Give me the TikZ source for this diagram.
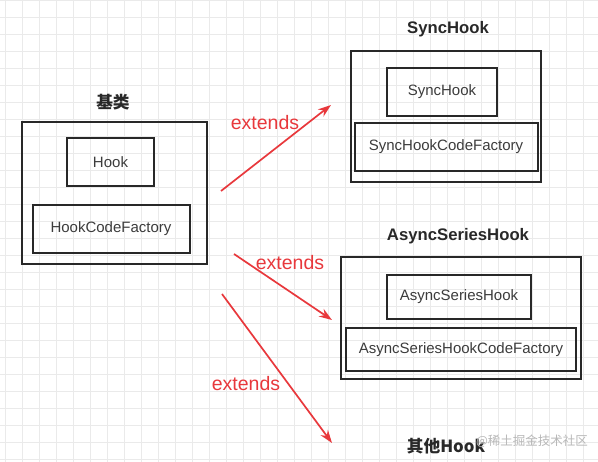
\documentclass[tikz,border=0pt]{standalone}
\usepackage{fontspec}
\setmainfont{Liberation Sans}
\newfontfamily\cjk{Noto Sans CJK SC}
\usetikzlibrary{arrows.meta}
\definecolor{gridc}{RGB}{234,234,234}
\definecolor{boxc}{RGB}{40,40,40}
\definecolor{txtc}{RGB}{60,60,60}
\definecolor{redc}{RGB}{232,56,60}
\tikzset{
  box/.style={draw=boxc, line width=2pt, rectangle, inner sep=0pt, font=\fontsize{15}{18}\selectfont, text=txtc},
  title/.style={font=\bfseries\fontsize{16.7}{20}\selectfont, text=boxc, inner sep=0pt},
  ctitle/.style={font=\cjk\bfseries\fontsize{16.7}{20}\selectfont, text=boxc, inner sep=0pt},
  ext/.style={draw=redc, line width=1.7pt, -{Stealth[length=13pt,width=9pt]}},
  extlabel/.style={font=\fontsize{19.5}{23}\selectfont, text=redc, inner sep=0pt},
}
\begin{document}
\begin{tikzpicture}[x=1pt,y=-1pt]
\useasboundingbox (0,0) rectangle (598,462);
\fill[white] (0,0) rectangle (598,462);
% grid
\foreach \gx in {5,22,...,598} \draw[gridc, line width=0.6pt] (\gx,0) -- (\gx,462);
\foreach \gy in {0,17,...,462} \draw[gridc, line width=0.6pt] (0,\gy) -- (598,\gy);

% base class
\node[ctitle] (tbase) at (113,102) {基类};
\node[box, minimum width=185pt, minimum height=142pt] (base) at (114.5,193) {};
\node[box, minimum width=87pt, minimum height=48pt] (hook) at (110.5,162) {Hook};
\node[box, minimum width=157pt, minimum height=48pt] (hcf) at (111,229) {HookCodeFactory};

% SyncHook
\node[title] (tsync) at (448,29) {SyncHook};
\node[box, minimum width=190pt, minimum height=131pt] (sync) at (446,116.5) {};
\node[box, minimum width=110pt, minimum height=48pt] (synch) at (442,92) {SyncHook};
\node[box, minimum width=183pt, minimum height=48pt] (synccf) at (446,147) {SyncHookCodeFactory};

% AsyncSeriesHook
\node[title] (tasync) at (458,236) {AsyncSeriesHook};
\node[box, minimum width=240pt, minimum height=122pt] (async) at (461,318) {};
\node[box, minimum width=144pt, minimum height=44pt] (asynch) at (459,297) {AsyncSeriesHook};
\node[box, minimum width=230pt, minimum height=43pt] (asynccf) at (461,349.5) {AsyncSeriesHookCodeFactory};

% other
\node[ctitle] (tother) at (446,446) {其他Hook};
\node[font=\cjk\fontsize{12.5}{15}\selectfont, text=black!28, inner sep=0pt] (wm) at (532,441) {@稀土掘金技术社区};

% arrows
\coordinate (s1) at (221,191);
\coordinate (e1) at (331,105);
\coordinate (s2) at (234,254);
\coordinate (e2) at (332,320);
\coordinate (s3) at (222,294);
\coordinate (e3) at (332,443);
\draw[ext] (s1) -- (e1);
\draw[ext] (s2) -- (e2);
\draw[ext] (s3) -- (e3);
\node[extlabel] (l1) at (265,123) {extends};
\node[extlabel] (l2) at (290,263) {extends};
\node[extlabel] (l3) at (246,384) {extends};
\end{tikzpicture}
\end{document}
